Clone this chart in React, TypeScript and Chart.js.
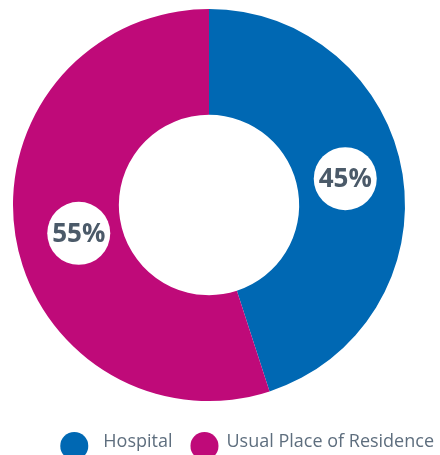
import React, { useEffect, useRef } from "react";
import { Chart, registerables } from "chart.js";

Chart.register(...registerables);

const categories = ["Hospital", "Usual Place of Residence"];
const values = [45, 55];
const colors = ["#0068B3", "#BF0A79"];
const valueLabels = ["45%", "55%"];

const labelPlugin = {
  id: "customLabels",
  afterDraw(chart: any) {
    const ctx = chart.ctx;
    const meta = chart.getDatasetMeta(0);
    ctx.save();
    meta.data.forEach((arc: any, i: number) => {
      const { x, y, startAngle, endAngle, outerRadius } = arc.getProps(
        ["x", "y", "startAngle", "endAngle", "outerRadius"],
        true
      );
      const mid = (startAngle + endAngle) / 2 - (2.6 * Math.PI) / 180;
      const r = outerRadius * 0.694;
      const cx = x + Math.cos(mid) * r + 3;
      const cy = y + Math.sin(mid) * r + 1;
      ctx.beginPath();
      ctx.arc(cx, cy, 31.5, 0, Math.PI * 2);
      ctx.fillStyle = "#ffffff";
      ctx.fill();
      ctx.fillStyle = "#4B5A69";
      ctx.font = "bold 26px 'Open Sans', sans-serif";
      ctx.textAlign = "center";
      ctx.textBaseline = "middle";
      ctx.fillText(valueLabels[i], cx, cy + 1);
    });

    // legend
    const fontSize = 18;
    const legendFont = `400 ${fontSize}px 'Open Sans', sans-serif`;
    ctx.font = legendFont;
    ctx.textAlign = "left";
    ctx.textBaseline = "middle";
    const rightEdge = 434;
    const ly = 446;
    const dotR = 14;
    const dotGaps = [15, 8];
    const itemGap = 18;
    const labels = chart.data.labels as string[];
    const bg = chart.data.datasets[0].backgroundColor as string[];
    const widths = labels.map((l) => ctx.measureText(l).width);
    let total = 0;
    widths.forEach((w, i) => {
      total += dotR * 2 + dotGaps[i] + w;
      if (i < widths.length - 1) total += itemGap;
    });
    let xPos = rightEdge - total;
    labels.forEach((l, i) => {
      ctx.beginPath();
      ctx.arc(xPos + dotR, ly, dotR, 0, Math.PI * 2);
      ctx.fillStyle = bg[i];
      ctx.fill();
      xPos += dotR * 2 + dotGaps[i];
      ctx.fillStyle = "#5E6E7E";
      ctx.font = legendFont;
      ctx.fillText(l, xPos, ly - 4);
      xPos += widths[i] + itemGap;
    });
    ctx.restore();
  },
};

export default function App() {
  const ref = useRef<HTMLCanvasElement | null>(null);
  useEffect(() => {
    if (!ref.current) return;
    const chart = new Chart(ref.current, {
      type: "doughnut",
      data: {
        labels: categories,
        datasets: [
          {
            data: values,
            backgroundColor: colors,
            borderWidth: 0,
          },
        ],
      },
      options: {
        responsive: false,
        animation: false,
        cutout: "46%",
        layout: { padding: { top: 9, right: 22, bottom: 54, left: 0 } },
        plugins: {
          legend: { display: false },
          tooltip: { enabled: false },
        },
      },
      plugins: [labelPlugin],
    });
    return () => chart.destroy();
  }, []);
  return (
    <div style={{ position: "fixed", left: 0, top: 0, width: 440, height: 455, background: "#fff" }}>
      <canvas ref={ref} width={440} height={455} style={{ width: 440, height: 455 }} />
    </div>
  );
}
